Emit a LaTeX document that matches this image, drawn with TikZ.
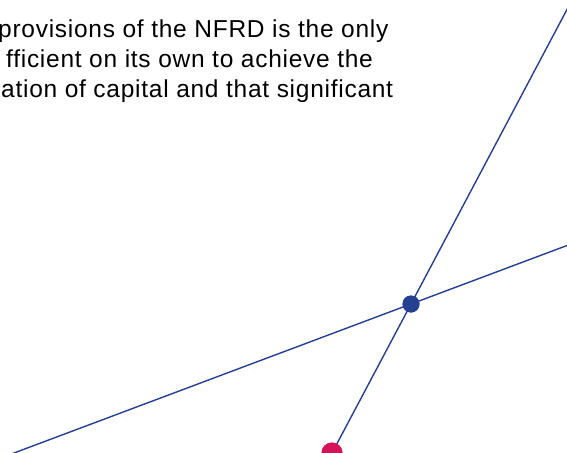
\documentclass[tikz,border=0pt]{standalone}
\usepackage{fontspec}
\setmainfont{Liberation Sans}
\newfontfamily\spacedfont[LetterSpace=3]{Liberation Sans}
\definecolor{lineblue}{RGB}{38,64,145}
\definecolor{dotred}{RGB}{216,18,88}
\tikzset{
  conn/.style={draw=lineblue, line width=1.4pt},
  bluedot/.style={circle, fill=lineblue, inner sep=0pt, minimum size=17pt},
  reddot/.style={circle, fill=dotred, inner sep=0pt, minimum size=21pt},
  txt/.style={anchor=base west, inner sep=0pt, font=\spacedfont\fontsize{24.5pt}{27pt}\selectfont}
}
\begin{document}
\begin{tikzpicture}[x=1pt,y=-1pt]
\useasboundingbox (0,0) rectangle (567,452);
\clip (0,0) rectangle (567,452);
\node[txt] (l1) at (-2,37.3) {provisions of the NFRD is the only};
\node[txt] (l2) at (6,67.3) {fficient on its own to achieve the};
\node[txt] (l3) at (1,97.3) {ation of capital and that significant};
\coordinate (top) at (572,0);
\coordinate (right) at (567,245.5);
\coordinate (left) at (-10,462);
\node[reddot] (r) at (332,453) {};
\node[bluedot] (b) at (411,304) {};
\draw[conn] (top) -- (b.center) -- (r.center);
\draw[conn] (right) -- (b.center) -- (left);
\node[reddot] at (r) {};
\node[bluedot] at (b) {};
\end{tikzpicture}
\end{document}
